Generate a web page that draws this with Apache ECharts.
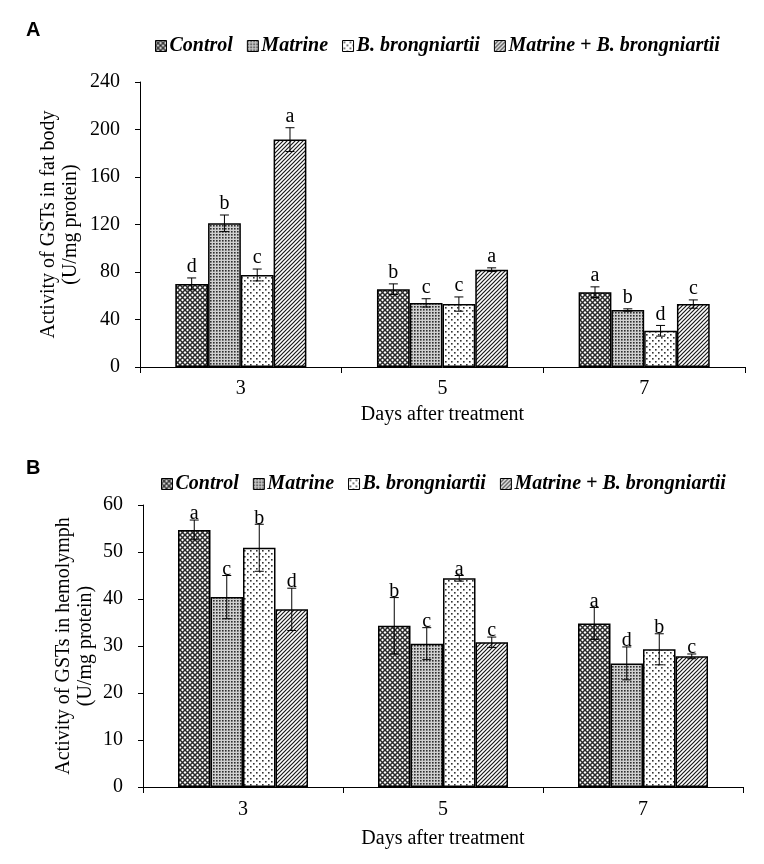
<!DOCTYPE html>
<html>
<head>
<meta charset="utf-8">
<script src="https://cdn.jsdelivr.net/npm/echarts@6/dist/echarts.min.js"></script>
<style>
  html, body { margin: 0; padding: 0; background: #fff; }
  #chart { width: 764px; height: 864px; }
</style>
</head>
<body>
<div id="chart"></div>
<script>
// categorias y series
var days = ['3', '5', '7'];
var treatments = ['Control', 'Matrine', 'B. brongniartii', 'Matrine + B. brongniartii'];

// Panel A - fat body
var fatControl = [70, 65.5, 63];
var fatMatrine = [121, 54, 48];
var fatBb = [77.5, 53, 30.5];
var fatMixed = [191.5, 82, 53];
var fatControlErr = [5, 4.5, 4.5];
var fatMatrineErr = [7, 3.5, 1];
var fatBbErr = [5, 6, 4.5];
var fatMixedErr = [10, 1.5, 3.5];
var fatControlLet = ['d', 'b', 'a'];
var fatMatrineLet = ['b', 'c', 'b'];
var fatBbLet = ['c', 'c', 'd'];
var fatMixedLet = ['a', 'a', 'c'];

// Panel B - hemolymph
var hemoControl = [54.7, 34.3, 34.8];
var hemoMatrine = [40.4, 30.5, 26.3];
var hemoBb = [50.9, 44.4, 29.3];
var hemoMixed = [37.8, 30.8, 27.8];
var hemoControlErr = [2.1, 6, 3.4];
var hemoMatrineErr = [4.6, 3.4, 3.5];
var hemoBbErr = [5, 0.6, 3.3];
var hemoMixedErr = [4.5, 1.1, 0.5];
var hemoControlLet = ['a', 'b', 'a'];
var hemoMatrineLet = ['c', 'c', 'd'];
var hemoBbLet = ['b', 'a', 'b'];
var hemoMixedLet = ['d', 'c', 'c'];

var yTicksA = { min: 0, max: 240, interval: 40 };
var yTicksB = { min: 0, max: 60, interval: 10 };

var SERIF = 'Liberation Serif';
var CAT_GAP = 0.35;

// patrones de relleno
function makeTile(size, draw) {
    var c = document.createElement('canvas');
    c.width = size;
    c.height = size;
    var ctx = c.getContext('2d');
    ctx.fillStyle = '#fff';
    ctx.fillRect(0, 0, size, size);
    draw(ctx, size);
    return { image: c, repeat: 'repeat' };
}

var patCross = makeTile(5, function (ctx, s) {
    ctx.strokeStyle = '#2a2a2a';
    ctx.lineWidth = 1.5;
    ctx.beginPath();
    ctx.moveTo(-1, -1); ctx.lineTo(s + 1, s + 1);
    ctx.moveTo(-1, s + 1); ctx.lineTo(s + 1, -1);
    ctx.stroke();
});
var patFineDots = makeTile(3, function (ctx) {
    ctx.fillStyle = '#d0d0d0';
    ctx.fillRect(0, 0, 3, 3);
    ctx.fillStyle = '#2e2e2e';
    ctx.fillRect(0, 0, 1.6, 1.6);
});
var patDots = makeTile(6, function (ctx) {
    ctx.fillStyle = '#333';
    ctx.fillRect(1, 1, 1.6, 1.6);
    ctx.fillRect(4, 4, 1.6, 1.6);
});
var patDiag = makeTile(4, function (ctx, s) {
    ctx.strokeStyle = '#1a1a1a';
    ctx.lineWidth = 1.2;
    ctx.beginPath();
    ctx.moveTo(-1, s + 1); ctx.lineTo(s + 1, -1);
    ctx.moveTo(-1, 1); ctx.lineTo(1, -1);
    ctx.moveTo(s - 1, s + 1); ctx.lineTo(s + 1, s - 1);
    ctx.stroke();
});
var patterns = [patCross, patFineDots, patDots, patDiag];

var panels = [
    {
        values: [fatControl, fatMatrine, fatBb, fatMixed],
        errors: [fatControlErr, fatMatrineErr, fatBbErr, fatMixedErr],
        letters: [fatControlLet, fatMatrineLet, fatBbLet, fatMixedLet],
        letterShift: -1
    },
    {
        values: [hemoControl, hemoMatrine, hemoBb, hemoMixed],
        errors: [hemoControlErr, hemoMatrineErr, hemoBbErr, hemoMixedErr],
        letters: [hemoControlLet, hemoMatrineLet, hemoBbLet, hemoMixedLet],
        letterShift: 4
    }
];

function errorSeries(p, idx) {
    var rows = [];
    var lets = [];
    for (var k = 0; k < 4; k++) {
        for (var i = 0; i < days.length; i++) {
            rows.push([i, p.values[k][i], p.errors[k][i], k]);
            lets.push(p.letters[k][i]);
        }
    }
    return {
        type: 'custom',
        xAxisIndex: idx,
        yAxisIndex: idx,
        z: 10,
        silent: true,
        data: rows,
        renderItem: function (params, api) {
            var cat = api.value(0), mean = api.value(1), err = api.value(2), k = api.value(3);
            var band = api.size([1, 0])[0];
            var barW = band * (1 - CAT_GAP) / 4;
            var x = api.coord([cat, mean])[0] + (k - 1.5) * barW;
            var yTop = api.coord([cat, mean + err])[1];
            var yBot = api.coord([cat, mean - err])[1];
            var cap = 4.5;
            var line = { stroke: '#000', lineWidth: 1 };
            return {
                type: 'group',
                children: [
                    { type: 'line', shape: { x1: x, y1: yTop, x2: x, y2: yBot }, style: line },
                    { type: 'line', shape: { x1: x - cap, y1: yTop, x2: x + cap, y2: yTop }, style: line },
                    { type: 'line', shape: { x1: x - cap, y1: yBot, x2: x + cap, y2: yBot }, style: line },
                    {
                        type: 'text',
                        style: {
                            text: lets[params.dataIndex],
                            x: x,
                            y: yTop + p.letterShift,
                            align: 'center',
                            verticalAlign: 'bottom',
                            font: '20px "' + SERIF + '"',
                            fill: '#000'
                        }
                    }
                ]
            };
        }
    };
}

var series = [];
panels.forEach(function (p, idx) {
    treatments.forEach(function (name, k) {
        series.push({
            type: 'bar',
            name: name,
            xAxisIndex: idx,
            yAxisIndex: idx,
            data: p.values[k],
            barGap: '0%',
            barCategoryGap: (CAT_GAP * 100) + '%',
            itemStyle: { color: patterns[k], borderColor: '#000', borderWidth: 1.5 },
            emphasis: { disabled: true }
        });
    });
    series.push(errorSeries(p, idx));
});

var axisLineStyle = { lineStyle: { color: '#000', width: 1 } };

function xAxisFor(idx, margin, nameGap) {
    return {
        type: 'category',
        gridIndex: idx,
        data: days,
        name: 'Days after treatment',
        nameLocation: 'middle',
        nameGap: nameGap,
        nameMoveOverlap: false,
        nameTextStyle: { fontFamily: SERIF, fontSize: 20, color: '#000' },
        axisLine: axisLineStyle,
        axisTick: { show: true, length: 6, lineStyle: { color: '#000' } },
        axisLabel: { fontFamily: SERIF, fontSize: 20, color: '#000', margin: margin }
    };
}

function yAxisFor(idx, ticks, name, nameGap) {
    return {
        type: 'value',
        gridIndex: idx,
        min: ticks.min,
        max: ticks.max,
        interval: ticks.interval,
        name: name,
        nameLocation: 'middle',
        nameGap: nameGap,
        nameMoveOverlap: false,
        nameTextStyle: { fontFamily: SERIF, fontSize: 20, color: '#000', lineHeight: 22 },
        axisLine: { show: true, lineStyle: { color: '#000', width: 1 } },
        axisTick: { show: true, length: 5, lineStyle: { color: '#000' } },
        axisLabel: { fontFamily: SERIF, fontSize: 20, color: '#000', margin: 20 },
        splitLine: { show: false }
    };
}

function legendFor(left, top) {
    return {
        data: treatments,
        left: left,
        top: top,
        icon: 'rect',
        itemWidth: 11,
        itemHeight: 11,
        itemGap: 14,
        selectedMode: false,
        itemStyle: { borderColor: '#000', borderWidth: 1 },
        textStyle: { fontFamily: SERIF, fontSize: 20, fontStyle: 'italic', fontWeight: 'bold', color: '#000', padding: [0, 0, 0, -2] }
    };
}

var chart = echarts.init(document.getElementById('chart'), null, { renderer: 'canvas' });

var option = {
    backgroundColor: '#fff',
    animation: false,
    legend: [legendFor(150, 31), legendFor(156, 469)],
    grid: [
        { left: 140, right: 19, top: 82, bottom: 497 },
        { left: 143, right: 21, top: 505, bottom: 77 }
    ],
    xAxis: [xAxisFor(0, 12, 38), xAxisFor(1, 13, 42)],
    yAxis: [
        yAxisFor(0, yTicksA, 'Activity of GSTs in fat body\n(U/mg protein)', 58),
        yAxisFor(1, yTicksB, 'Activity of GSTs in hemolymph\n(U/mg protein)', 46)
    ],
    graphic: [
        { type: 'text', left: 26, top: 20, style: { text: 'A', font: 'bold 20px "Liberation Sans"', fill: '#000' } },
        { type: 'text', left: 26, top: 458, style: { text: 'B', font: 'bold 20px "Liberation Sans"', fill: '#000' } }
    ],
    series: series
};

chart.setOption(option);
window.addEventListener('resize', chart.resize);
</script>
</body>
</html>
